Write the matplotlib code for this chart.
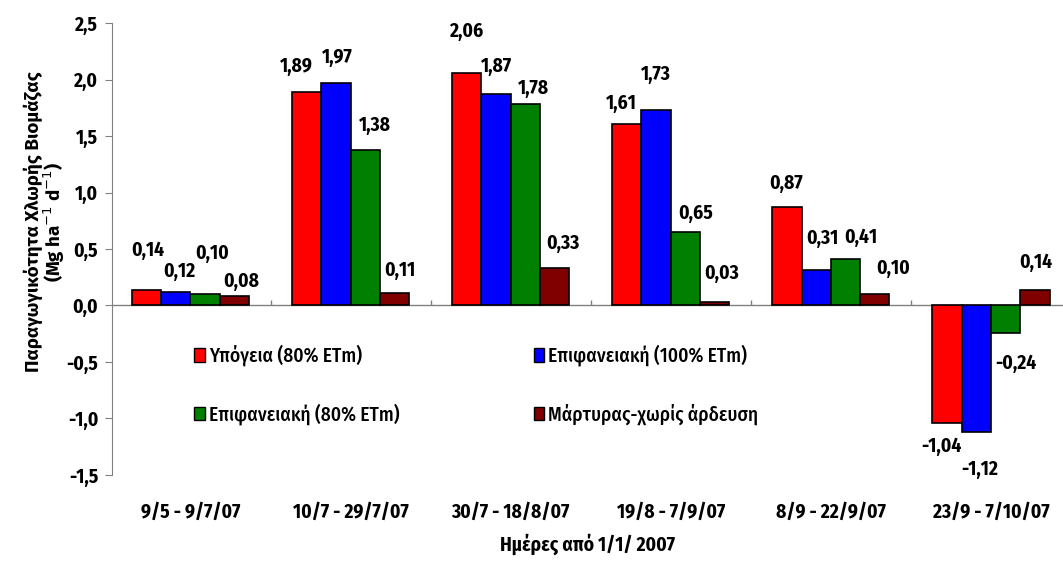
import numpy as np
import matplotlib
matplotlib.use('Agg')
import matplotlib.pyplot as plt
from matplotlib.patches import Patch
from matplotlib.ticker import FuncFormatter
from matplotlib.font_manager import FontProperties

# ----------------------------
# Data
# ----------------------------
periods = ['9/5 - 9/7/07', '10/7 - 29/7/07', '30/7 - 18/8/07',
           '19/8 - 7/9/07', '8/9 - 22/9/07', '23/9 - 7/10/07']
series_names = ['Υπόγεια (80% ETm)', 'Επιφανειακή (100% ETm)',
                'Επιφανειακή (80% ETm)', 'Μάρτυρας-χωρίς άρδευση']
ypogeia_80 = [0.14, 1.89, 2.06, 1.61, 0.87, -1.04]
epif_100 = [0.12, 1.97, 1.87, 1.73, 0.31, -1.12]
epif_80 = [0.10, 1.38, 1.78, 0.65, 0.41, -0.24]
martyras = [0.08, 0.11, 0.33, 0.03, 0.10, 0.14]

colors = ['#ff0000', '#0000ff', '#008000', '#800000']

# label nudges (pixels: dx, distance from bar end) - hand placed like the original
label_nudge = [
    [(1, 39), (-10, 26), (0, 41), (-5, 20), (-1, 24), (-6, 23)],
    [(3, 21), (1, 26), (0, 28), (0, 36), (6, 32), (3, 37)],
    [(7, 41), (10, 24), (8, 16), (10, 19), (15, 22), (10, 31)],
    [(7, 15), (5, 23), (8, 25), (7, 29), (18, 26), (1, 27)],
]

narrow = ['Fira Sans Condensed', 'DejaVu Sans']
plt.rcParams['font.family'] = narrow

fig = plt.figure(figsize=(10.63, 5.61), dpi=100)
ax = fig.add_axes([0.1054, 0.1533, 0.8946, 0.8057])

all_series = [ypogeia_80, epif_100, epif_80, martyras]
x = np.arange(len(periods))
width = 0.183

for k, vals in enumerate(all_series):
    xpos = x + (k - 1.5) * width
    ax.bar(xpos, vals, width, color=colors[k], edgecolor='black', linewidth=1.2, zorder=3)
    for i, v in enumerate(vals):
        dx, dy = label_nudge[k][i]
        if v < 0:
            dy = -dy
        ax.annotate(f'{v:.2f}'.replace('.', ','), (xpos[i], v), xytext=(dx, dy),
                    textcoords='offset pixels', ha='center', va='center',
                    fontsize=14, fontweight='bold', zorder=4)

ax.set_xlim(-0.49, 5.45)
ax.set_ylim(-1.5, 2.5)
ax.set_yticks(np.arange(-1.5, 2.51, 0.5))
ax.yaxis.set_major_formatter(FuncFormatter(lambda v, p: f'{v:.1f}'.replace('.', ',')))
ax.tick_params(axis='y', direction='out', length=5, color='#808080', labelsize=14, pad=5)
for t in ax.get_yticklabels():
    t.set_fontweight('bold')

# category labels at the bottom, zero line with boundary ticks
ax.set_xticks(x)
ax.set_xticklabels(periods, fontsize=14, fontweight='bold')
ax.tick_params(axis='x', length=0, pad=20)
ax.axhline(0, color='#808080', linewidth=1, zorder=2)
ax.vlines(np.arange(0.5, len(periods) - 0.5, 1), 0, 0.05, color='#808080', linewidth=1, zorder=2)

for s in ['top', 'right', 'bottom']:
    ax.spines[s].set_visible(False)
ax.spines['left'].set_color('#808080')

ax.set_xlabel('Ημέρες από 1/1/ 2007', fontsize=14, fontweight='bold', labelpad=8)
ylab_font = FontProperties(family=['Fira Sans', 'DejaVu Sans'], weight='bold', size=13.5)
ax.set_ylabel('Παραγωγικότητα Χλωρής Βιομάζας\n(Mg ha$^{-1}$ d$^{-1}$)',
              fontproperties=ylab_font, linespacing=0.95)
ax.yaxis.set_label_coords(-0.047, 0.56)

handles = [Patch(facecolor=c, edgecolor='black', linewidth=1) for c in colors]
order = [0, 2, 1, 3]
ax.legend([handles[i] for i in order], [series_names[i] for i in order], ncol=2,
          loc='upper left', bbox_to_anchor=(0.068, 0.327), frameon=False,
          prop={'size': 14, 'weight': 'medium'}, handlelength=0.55, handleheight=0.7,
          handletextpad=0.2, columnspacing=6.9, labelspacing=1.9)

plt.savefig('out.png', dpi=100)
